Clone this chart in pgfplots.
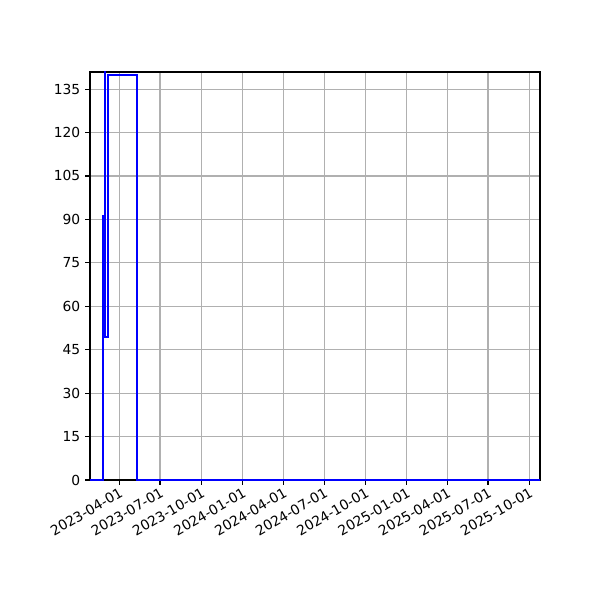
\documentclass[border=0pt]{standalone}
\usepackage{fontspec}
\setmainfont{DejaVu Sans}
\usepackage{pgfplots}
\pgfplotsset{compat=1.18}
\definecolor{gridgray}{HTML}{B0B0B0}

\begin{document}
\begin{tikzpicture}
\begin{axis}[
    name=ax,
    scale only axis,
    width=4.5in, height=4.08in,
    xmin=25, xmax=1028,
    ymin=0, ymax=140.9,
    % days counted from 2023-01-01
    xtick={90,181,273,365,456,547,639,731,821,912,1004},
    xticklabels={2023-04-01,2023-07-01,2023-10-01,2024-01-01,2024-04-01,2024-07-01,2024-10-01,2025-01-01,2025-04-01,2025-07-01,2025-10-01},
    ytick={0,15,30,45,60,75,90,105,120,135},
    xticklabel style={rotate=30, anchor=north east, inner sep=1pt, font=\fontsize{10}{12}\selectfont},
    yticklabel style={font=\fontsize{10}{12}\selectfont},
    /pgf/number format/assume math mode=true,
    tick pos=left,
    tick align=outside,
    major tick length=3.5pt,
    tick style={black, line width=0.8pt},
    axis line style={black, line width=0.8pt},
    grid=major,
    grid style={gridgray, line width=0.8pt},
]
\addplot[const plot, blue, line width=1.5pt, mark=none] coordinates {
    (25,0)
    (53,91)
    (57.5,200)
    (59,49.5)
    (65.5,140)
    (129.5,0)
    (1028,0)
};
\end{axis}
\path[use as bounding box] (ax.south west) ++(-0.9in,-1.2in) rectangle ++(6in,6in);
\end{tikzpicture}
\end{document}
